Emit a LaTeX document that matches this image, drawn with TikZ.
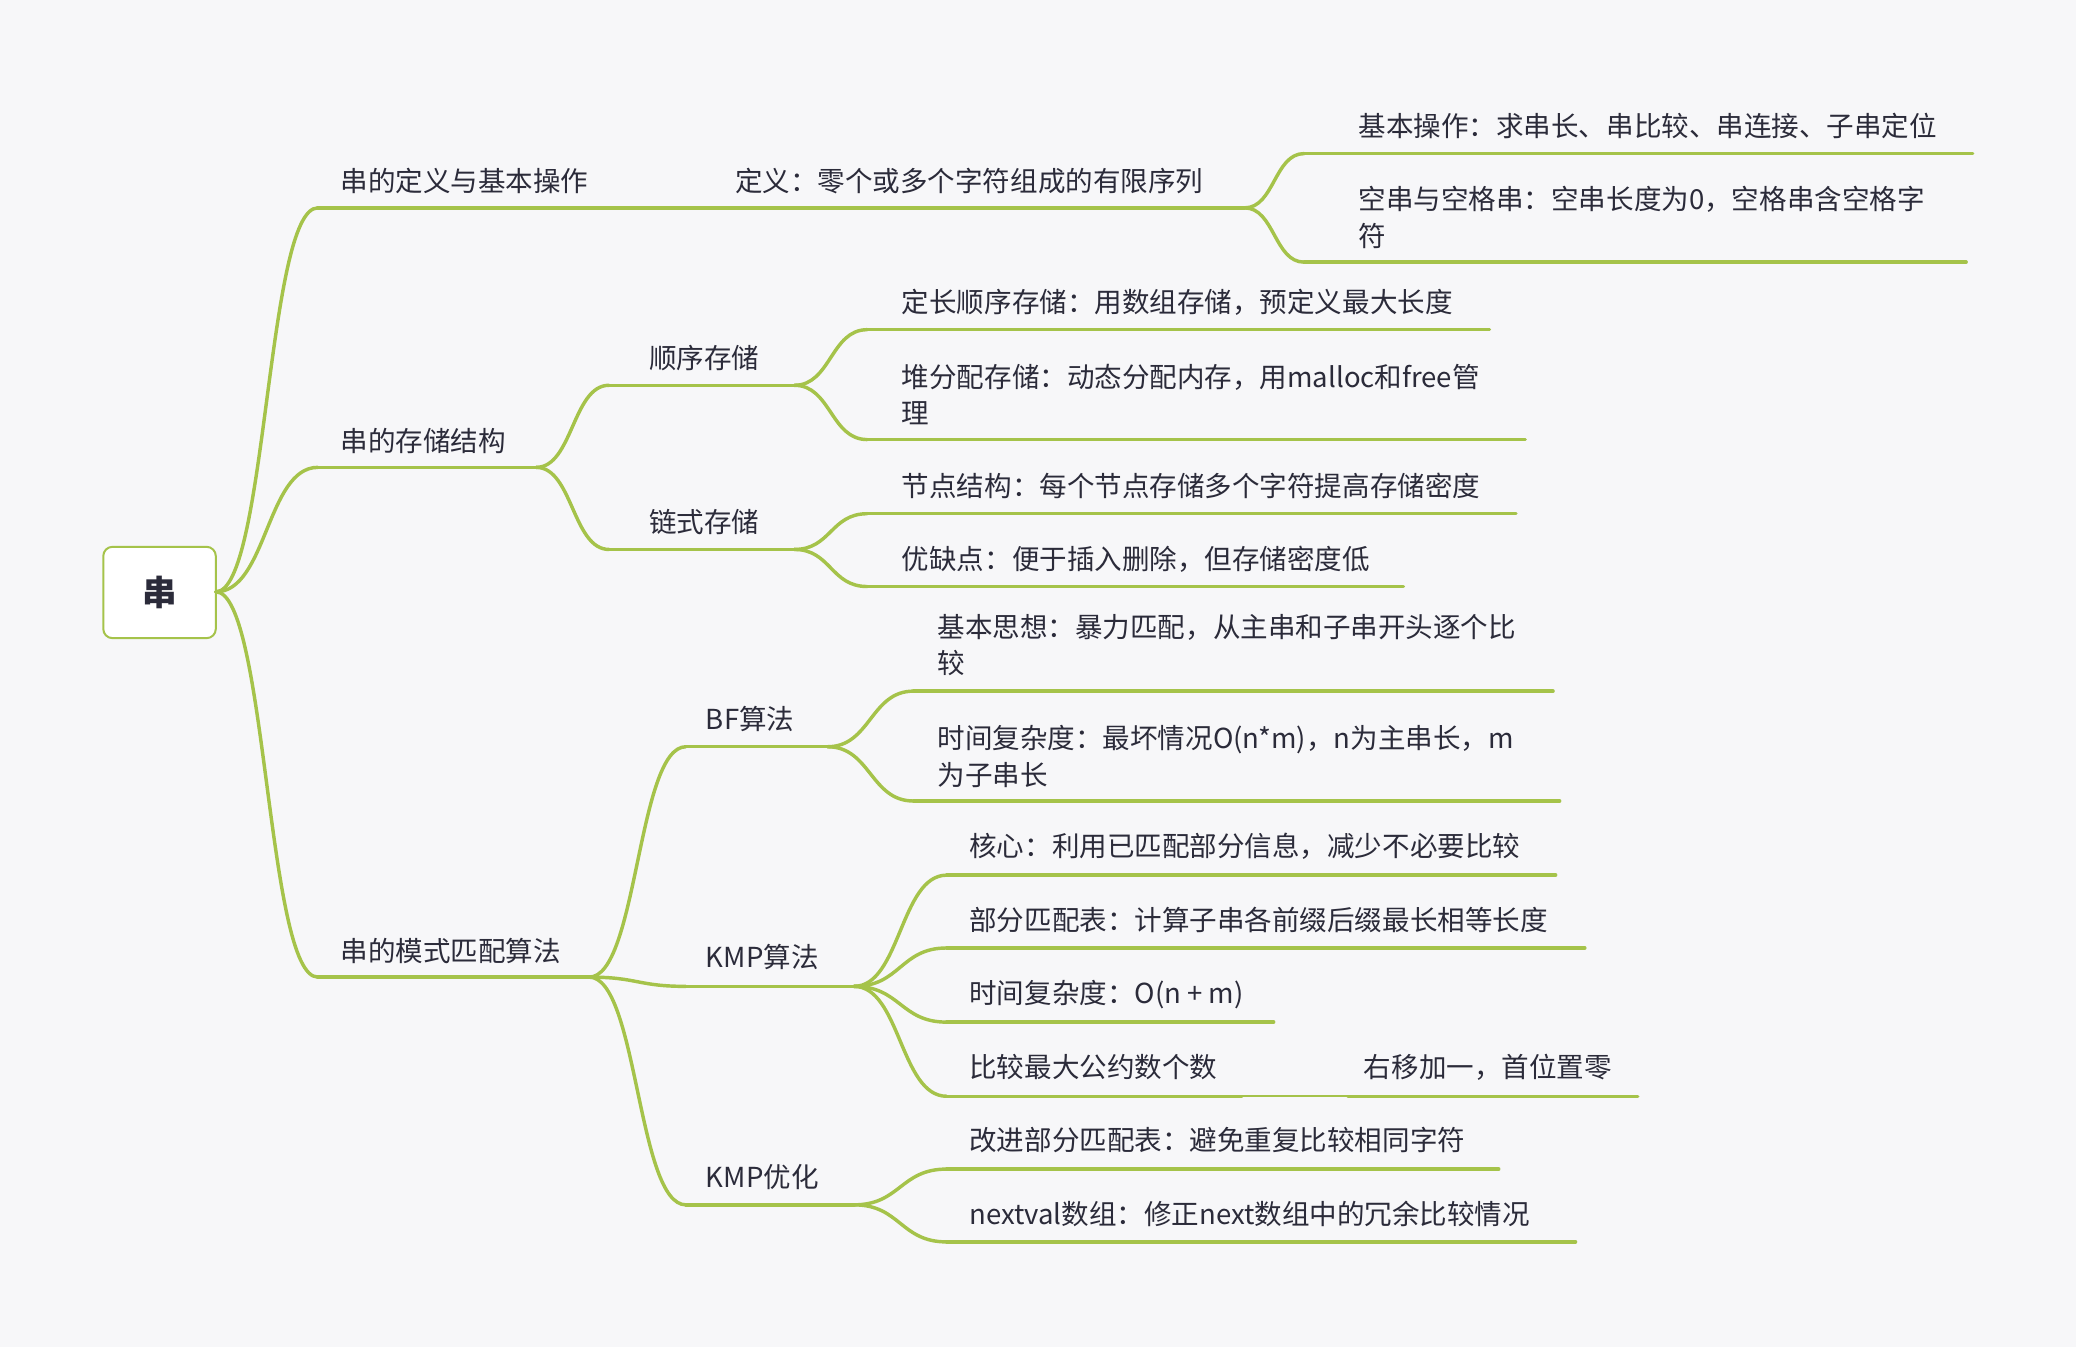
\documentclass[tikz,border=0pt]{standalone}
\usepackage{fontspec}
\setmainfont{Noto Sans CJK SC}
\definecolor{ln}{HTML}{A5C34A}
\definecolor{bg}{HTML}{F7F7F9}
\definecolor{tx}{HTML}{2B2B3A}
\newcommand\cv[4]{\draw[lnk] (#1,#2) .. controls ({(#1+#3)/2},#2) and ({(#1+#3)/2},#4) .. (#3,#4);}
\newcommand\ul[3]{\draw[lnk] (#1,#3) -- (#2,#3);}
\begin{document}
\begin{tikzpicture}[x=1pt,y=-1pt,
 lnk/.style={draw=ln,line width=2.6pt,line cap=round},
 lbl/.style={anchor=base west,inner sep=0pt,text=tx,font=\fontsize{20.8}{27.5}\selectfont,align=left}]
\fill[bg] (0,0) rectangle (1568,1017);
\useasboundingbox (0,0) rectangle (1568,1017);
% root
\node[draw=ln,line width=1.5pt,rounded corners=7pt,fill=white,minimum width=85pt,minimum height=69pt,text=tx,font=\fontsize{26}{30}\selectfont\bfseries] (root) at (120.5,447.5) {串};
% root branches
\cv{163}{447}{240}{157}
\cv{163}{447}{240}{353}
\cv{163}{447}{240}{738}
\ul{240}{940}{157}
\ul{240}{405}{353}
\ul{240}{445}{738}
\node[lbl] (a1) at (257,145) {串的定义与基本操作};
\node[lbl] (a2) at (257,341) {串的存储结构};
\node[lbl] (a3) at (257,726) {串的模式匹配算法};
\node[lbl] (b0) at (555,145) {定义：零个或多个字符组成的有限序列};
% definition children
\cv{940}{157}{985}{116}
\cv{940}{157}{985}{198}
\ul{985}{1490}{116}
\ul{985}{1485}{198}
\node[lbl] (c1) at (1026,103) {基本操作：求串长、串比较、串连接、子串定位};
\node[lbl] (c2) at (1026,186) {空串与空格串：空串长度为0，空格串含空格字\\符};
% storage
\cv{405}{353}{460}{291}
\cv{405}{353}{460}{415}
\ul{460}{600}{291}
\ul{460}{600}{415}
\node[lbl] (s1) at (490,278) {顺序存储};
\node[lbl] (s2) at (490,402) {链式存储};
\cv{600}{291}{655}{249}
\cv{600}{291}{655}{332}
\ul{655}{1125}{249}
\ul{655}{1152}{332}
\node[lbl] (s11) at (681,236) {定长顺序存储：用数组存储，预定义最大长度};
\node[lbl] (s12) at (681,320) {堆分配存储：动态分配内存，用malloc和free管\\理};
\cv{600}{415}{655}{388}
\cv{600}{415}{655}{443}
\ul{655}{1145}{388}
\ul{655}{1060}{443}
\node[lbl] (s21) at (681,375) {节点结构：每个节点存储多个字符提高存储密度};
\node[lbl] (s22) at (681,430) {优缺点：便于插入删除，但存储密度低};
% matching
\cv{445}{738}{518}{564}
\cv{445}{738}{518}{745}
\cv{445}{738}{518}{910}
\ul{518}{625}{564}
\ul{518}{645}{745}
\ul{518}{645}{910}
\node[lbl] (m1) at (533,551) {BF算法};
\node[lbl] (m2) at (533,731) {KMP算法};
\node[lbl] (m3) at (533,897) {KMP优化};
\cv{625}{564}{690}{522}
\cv{625}{564}{690}{605}
\ul{690}{1173}{522}
\ul{690}{1178}{605}
\node[lbl] (m11) at (708,509) {基本思想：暴力匹配，从主串和子串开头逐个比\\较};
\node[lbl] (m12) at (708,593) {时间复杂度：最坏情况O(n*m)，n为主串长，m\\为子串长};
\cv{645}{745}{715}{661}
\cv{645}{745}{715}{716}
\cv{645}{745}{715}{772}
\cv{645}{745}{715}{828}
\ul{715}{1175}{661}
\ul{715}{1197}{716}
\ul{715}{962}{772}
\ul{715}{938}{828}
\draw[draw=ln,line width=1.3pt] (938,828) -- (1018,828);
\ul{1018}{1237}{828}
\node[lbl] (m21) at (732,647) {核心：利用已匹配部分信息，减少不必要比较};
\node[lbl] (m22) at (732,703) {部分匹配表：计算子串各前缀后缀最长相等长度};
\node[lbl] (m23) at (732,758) {时间复杂度：O(n + m)};
\node[lbl] (m24) at (732,814) {比较最大公约数个数};
\node[lbl] (m25) at (1030,814) {右移加一，首位置零};
\cv{645}{910}{715}{883}
\cv{645}{910}{715}{938}
\ul{715}{1132}{883}
\ul{715}{1190}{938}
\node[lbl] (m31) at (732,869) {改进部分匹配表：避免重复比较相同字符};
\node[lbl] (m32) at (732,925) {nextval数组：修正next数组中的冗余比较情况};
\end{tikzpicture}
\end{document}
